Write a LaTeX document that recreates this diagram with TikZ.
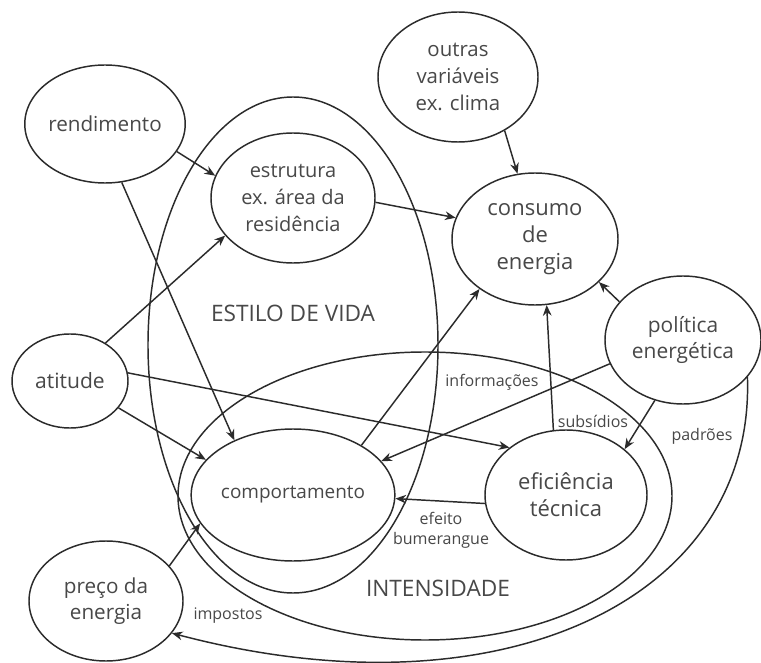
\documentclass[tikz,border=0pt]{standalone}
\usepackage{fontspec}
\setmainfont{Open Sans}
\usetikzlibrary{shapes.geometric,arrows.meta}
\definecolor{ln}{HTML}{2B2B2B}
\definecolor{tx}{HTML}{484848}
\newcommand{\fs}[1]{\fontsize{#1}{20}\selectfont}
\begin{document}
\begin{tikzpicture}[x=0.75pt,y=-0.75pt,
  ell/.style={draw=ln, line width=1.1pt, ellipse, inner sep=0pt, align=center, text=tx, font=\fs{15.5}},
  big/.style={draw=ln, line width=1.1pt},
  arr/.style={draw=ln, line width=1.1pt, -{Stealth[length=8pt,width=6.5pt]}},
  lab/.style={text=tx, font=\fontsize{12}{15}\selectfont, align=center, inner sep=0pt},
  grouplabel/.style={text=tx, font=\fontsize{17}{20}\selectfont, inner sep=0pt}]
\useasboundingbox (0,0) rectangle (761,663);
\fill[white] (0,0) rectangle (761,663);

% big enclosing ellipses
\draw[big] (293,345) ellipse [x radius=108.75pt, y radius=186pt];
\draw[big] (425,496) ellipse [x radius=185.25pt, y radius=108pt];

% nodes
\node[ell, minimum width=112.5pt, minimum height=88.5pt] (rend) at (105,124) {rendimento};
\node[ell, minimum width=123pt, minimum height=97.5pt, font=\fs{15}] (estr) at (293,198) {estrutura\\ex. área da\\residência};
\node[ell, minimum width=120pt, minimum height=97.5pt, font=\fs{15.3}] (outr) at (458,77) {outras\\variáveis\\ex. clima};
\node[ell, minimum width=124.5pt, minimum height=99pt, font=\fs{16.5}] (cons) at (535,239) {consumo\\de\\energia};
\node[ell, minimum width=117pt, minimum height=96pt, font=\fs{15.7}] (pol) at (683,340) {política\\energética};
\node[ell, minimum width=87pt, minimum height=70.5pt, font=\fs{15.8}] (atit) at (70,381) {atitude};
\node[ell, minimum width=121.5pt, minimum height=99pt, font=\fs{14.2}] (comp) at (293,495) {comportamento};
\node[ell, minimum width=121.5pt, minimum height=97.5pt, font=\fs{16.5}] (efic) at (566,495) {eficiência\\técnica};
\node[ell, minimum width=115.5pt, minimum height=90pt] (preco) at (106,601) {preço da\\energia};

% labels
\node[grouplabel] (estilo) at (293,313) {ESTILO DE VIDA};
\node[grouplabel] (intens) at (438,588) {INTENSIDADE};
\node[lab] (info) at (492,382) {informações};
\node[lab] (subs) at (593,421) {subsídios};
\node[lab] (padr) at (702,436) {padrões};
\node[lab] (bum) at (441,530) {efeito\\bumerangue};
\node[lab] (imp) at (228,616) {impostos};

% connectors
\draw[arr] (rend.-21) -- (estr.164);
\draw[arr] (rend.-74) -- (comp.137);
\draw[arr] (atit.47) -- (estr.209);
\draw[arr] (atit.-29) -- (comp.158);
\draw[arr] (atit.8) -- (efic.140);
\draw[arr] (estr.-3) -- (cons.165);
\draw[arr] (outr.-49) -- (cons.105);
\draw[arr] (comp.36) -- (cons.222);
\draw[arr] (efic.101) -- (cons.-80);
\draw[arr] (pol.149) -- (cons.-34);
\draw[arr] (pol.198) -- (comp.21);
\draw[arr] (pol.-115) -- (efic.38);
\draw[arr] (efic.186) -- (comp.-2);
\draw[arr] (preco.29) -- (comp.197);
\draw[arr] (pol.-30) .. controls (755,600) and (500,720) .. (preco.-26);
\end{tikzpicture}
\end{document}
